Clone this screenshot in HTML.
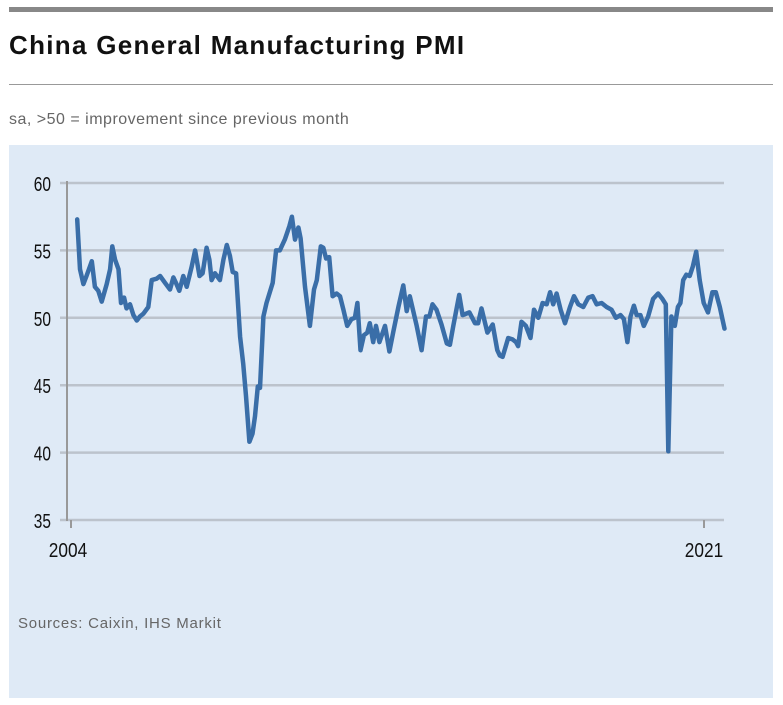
<!DOCTYPE html>
<html><head><meta charset="utf-8">
<style>
body{margin:0;background:#fff;width:783px;height:705px;overflow:hidden;font-family:"Liberation Sans",sans-serif;}
#topbar{position:absolute;left:9px;top:7px;width:764px;height:5px;background:#888;}
#title{position:absolute;left:9px;top:30px;font-size:26px;font-weight:bold;color:#111;white-space:nowrap;letter-spacing:1.3px;}
#rule{position:absolute;left:9px;top:84px;width:764px;height:1px;background:#999;}
#subtitle{position:absolute;left:9px;top:111px;font-size:16px;color:#666;letter-spacing:0.5px;}
#panel{position:absolute;left:9px;top:145px;width:764px;height:553px;background:#dfeaf6;}
#sources{position:absolute;left:18px;top:615px;font-size:15px;color:#666;letter-spacing:0.75px;}
svg{position:absolute;left:0;top:0;}
</style></head><body>
<div id="topbar"></div>
<div id="title">China General Manufacturing PMI</div>
<div id="rule"></div>
<div id="subtitle">sa, &gt;50 = improvement since previous month</div>
<div id="panel"></div>
<div id="sources">Sources: Caixin, IHS Markit</div>
<svg id="chart" width="783" height="705"></svg>
<script>
// months since Jan 2004
const months=[2.0,2.9,4.0,5.0,6.7,7.7,8.8,9.9,11.5,12.6,13.3,14.2,15.3,16.1,17.1,17.9,19.0,20.1,21.2,22.2,23.3,24.9,26.0,27.6,28.7,30.3,31.9,33.0,34.0,34.9,36.2,37.3,38.9,40.0,41.4,42.4,43.7,44.6,45.3,46.4,48.0,49.1,50.2,51.2,52.1,53.2,54.5,55.5,56.4,57.5,58.5,59.3,60.2,60.9,62.0,63.0,65.0,66.1,67.3,68.9,70.4,
71.2,72.2,73.3,74.0,75.4,77.0,78.3,79.2,80.5,81.3,82.2,83.2,84.3,85.6,86.7,87.8,89.0,90.4,91.5,92.3,93.3,94.4,95.5,96.3,97.4,98.3,99.4,101.2,102.6,103.9,105.5,107.1,108.2,109.2,111.4,113.0,114.4,115.5,116.5,117.8,119.4,121.1,122.1,123.2,125.1,126.2,128.4,130.2,131.2,132.3,134.2,135.9,137.4,138.2,
139.1,140.9,142.3,143.4,144.1,145.2,146.6,148.1,149.2,150.6,152.0,153.3,154.4,155.4,156.5,157.8,159.2,160.8,162.1,163.5,165.1,166.7,168.1,169.4,171.0,172.6,174.2,175.6,177.1,178.2,179.3,180.3,181.4,182.3,183.5,184.6,186.0,187.6,189.2,190.6,191.7,192.5,193.5,194.6,195.6,196.4,197.3,198.3,199.4,200.4,201.5,202.6,203.9,205.3,206.7,207.8,209.1,210.6];
const pmi=[57.3,53.6,52.5,53.1,54.2,52.3,52.0,51.2,52.5,53.6,55.3,54.3,53.6,51.1,51.5,50.7,51.0,50.2,49.8,50.1,50.3,50.8,52.8,52.9,53.1,52.6,52.1,53.0,52.5,52.0,53.1,52.3,53.8,55.0,53.1,53.3,55.2,54.3,52.8,53.3,52.8,54.3,55.4,54.6,53.4,53.3,48.6,46.6,44.2,40.8,41.4,42.7,44.9,44.8,50.1,51.1,52.6,55.0,55.0,55.8,56.8,
57.5,55.8,56.7,55.9,52.3,49.4,52.1,52.8,55.3,55.2,54.4,54.5,51.6,51.8,51.6,50.6,49.4,49.9,50.0,51.1,47.6,48.7,48.9,49.6,48.2,49.4,48.2,49.4,47.5,49.0,50.8,52.4,50.5,51.6,49.4,47.6,50.1,50.1,51.0,50.6,49.5,48.1,48.0,49.4,51.7,50.2,50.4,49.6,49.6,50.7,48.9,49.5,47.6,47.2,
47.1,48.5,48.4,48.2,47.9,49.7,49.4,48.5,50.6,50.0,51.1,51.0,51.9,51.0,51.8,50.6,49.6,50.8,51.6,51.0,50.8,51.5,51.6,51.0,51.1,50.8,50.6,50.0,50.2,49.9,48.2,50.1,50.9,50.2,50.2,49.4,50.1,51.4,51.8,51.4,51.0,40.1,50.1,49.4,50.8,51.1,52.8,53.2,53.1,53.8,54.9,52.8,51.1,50.4,51.9,51.9,50.8,49.2];
const yTicks=[35,40,45,50,55,60];
const xTickMonths=[0,204];
const xTickLabels=["2004","2021"];

const NS="http://www.w3.org/2000/svg";
const svg=document.getElementById('chart');
const X0=71,PX_PER_MONTH=633/204;
const xs=m=>X0+m*PX_PER_MONTH;
const ys=v=>183+(60-v)*(337/25);
function mk(tag,attrs){const e=document.createElementNS(NS,tag);for(const k in attrs)e.setAttribute(k,attrs[k]);svg.appendChild(e);return e;}
yTicks.forEach(t=>{
  const g=mk('line',{x1:60,x2:724,y1:ys(t),y2:ys(t),stroke:'#bcc3cc','stroke-width':2.5});
  
  
  const s=String(t);
  const tx=mk('text',{x:51,y:ys(t)+8,'text-anchor':'end','font-size':20,fill:'#111',textLength:s.length*8.6,lengthAdjust:'spacingAndGlyphs'});
  tx.textContent=s;
  
  
});
const ax=mk('line',{x1:67,x2:67,y1:181,y2:521,stroke:'#999','stroke-width':2});


xTickMonths.forEach((m,i)=>{
  const tk=mk('line',{x1:xs(m),x2:xs(m),y1:520,y2:528,stroke:'#999','stroke-width':2});
  
  
  const s=xTickLabels[i];
  const tx=mk('text',{x:xs(m)+(i==0?-3:0),y:557,'text-anchor':'middle','font-size':20,fill:'#111',textLength:s.length*9.6,lengthAdjust:'spacingAndGlyphs'});
  tx.textContent=s;
  
  
});
let d='';
months.forEach((m,i)=>{d+=(i?'L':'M')+xs(m).toFixed(1)+','+ys(pmi[i]).toFixed(1);});
const p=mk('path',{d:d,fill:'none',stroke:'#3a6ea8','stroke-width':4.5,'stroke-linejoin':'round','stroke-linecap':'round'});


</script>
</body></html>
